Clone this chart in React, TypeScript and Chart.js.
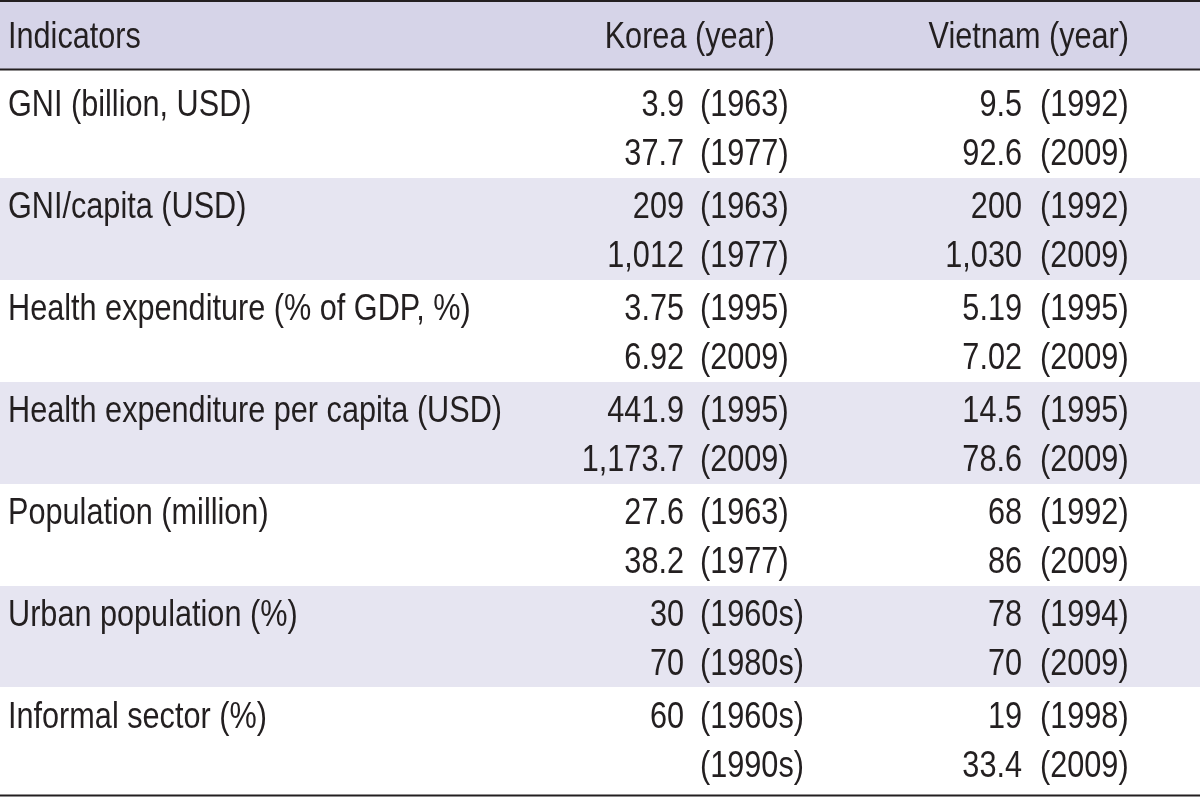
import React, { useEffect, useRef } from "react";
import { Chart, registerables } from "chart.js";

Chart.register(...registerables);

// ---- table content ----
const headers = ["Indicators", "Korea (year)", "Vietnam (year)"];

const indicators = [
  "GNI (billion, USD)",
  "GNI/capita (USD)",
  "Health expenditure (% of GDP, %)",
  "Health expenditure per capita (USD)",
  "Population (million)",
  "Urban population (%)",
  "Informal sector (%)",
];

const koreaValues = [
  ["3.9", "37.7"],
  ["209", "1,012"],
  ["3.75", "6.92"],
  ["441.9", "1,173.7"],
  ["27.6", "38.2"],
  ["30", "70"],
  ["60", ""],
];
const koreaYears = [
  ["(1963)", "(1977)"],
  ["(1963)", "(1977)"],
  ["(1995)", "(2009)"],
  ["(1995)", "(2009)"],
  ["(1963)", "(1977)"],
  ["(1960s)", "(1980s)"],
  ["(1960s)", "(1990s)"],
];
const vietnamValues = [
  ["9.5", "92.6"],
  ["200", "1,030"],
  ["5.19", "7.02"],
  ["14.5", "78.6"],
  ["68", "86"],
  ["78", "70"],
  ["19", "33.4"],
];
const vietnamYears = [
  ["(1992)", "(2009)"],
  ["(1992)", "(2009)"],
  ["(1995)", "(2009)"],
  ["(1995)", "(2009)"],
  ["(1992)", "(2009)"],
  ["(1994)", "(2009)"],
  ["(1998)", "(2009)"],
];

// ---- layout (in scale units; scales span the canvas) ----
const W = 1200;
const H = 797;
const HEADER_BAND = [2, 69];
const SHADED_BANDS = [
  [178, 280],
  [382, 484],
  [586, 687],
];
const RULES = [1, 69.5, 795.5];
const HEADER_BASE = 48;
const FIRST_BASE = 116;
const ROW_PITCH = 102;
const LINE_GAP = 49;
const X_LABEL = 8;
const X_KOREA_VAL = 684;
const X_KOREA_YEAR = 700;
const X_VIET_VAL = 1022;
const X_VIET_YEAR = 1040;
const X_KOREA_HEAD = 775;
const X_VIET_HEAD = 1129;
const FONT_SIZE = 37;
const LONGEST_WIDTH = 494;

const TEXT_COLOR = "#231f20";
const HEADER_COLOR = "#d6d4e8";
const SHADE_COLOR = "#e6e5f1";

const tablePlugin = {
  id: "tableText",
  afterDatasetsDraw(chart: any) {
    const { ctx } = chart;
    const xs = chart.scales.x;
    const ys = chart.scales.y;
    ctx.save();
    ctx.font = `${FONT_SIZE}px "Liberation Sans", Arial, sans-serif`;
    ctx.fillStyle = TEXT_COLOR;
    const sx = LONGEST_WIDTH / ctx.measureText(indicators[3]).width;
    const draw = (text: string, xv: number, yv: number, align: CanvasTextAlign) => {
      if (!text) return;
      const px = xs.getPixelForValue(xv);
      const py = ys.getPixelForValue(yv);
      ctx.save();
      ctx.translate(px, py);
      ctx.scale(sx, 1);
      ctx.textAlign = align;
      ctx.textBaseline = "alphabetic";
      ctx.fillText(text, 0, 0);
      ctx.restore();
    };
    draw(headers[0], X_LABEL, HEADER_BASE, "left");
    draw(headers[1], X_KOREA_HEAD, HEADER_BASE, "right");
    draw(headers[2], X_VIET_HEAD, HEADER_BASE, "right");
    indicators.forEach((label, i) => {
      const b = FIRST_BASE + i * ROW_PITCH;
      draw(label, X_LABEL, b, "left");
      for (let l = 0; l < 2; l++) {
        const yb = b + l * LINE_GAP;
        draw(koreaValues[i][l], X_KOREA_VAL, yb, "right");
        draw(koreaYears[i][l], X_KOREA_YEAR, yb, "left");
        draw(vietnamValues[i][l], X_VIET_VAL, yb, "right");
        draw(vietnamYears[i][l], X_VIET_YEAR, yb, "left");
      }
    });
    ctx.restore();
  },
};

export default function App() {
  const ref = useRef<HTMLCanvasElement | null>(null);

  useEffect(() => {
    document.body.style.margin = "0";
    const canvas = ref.current;
    if (!canvas) return;

    const band = (top: number, bottom: number, color: string) => ({
      type: "line" as const,
      data: [
        { x: 0, y: top },
        { x: W, y: top },
      ],
      fill: { value: bottom },
      backgroundColor: color,
      borderWidth: 0,
      borderColor: "rgba(0,0,0,0)",
      pointRadius: 0,
      order: 2,
    });
    const rule = (yv: number) => ({
      type: "line" as const,
      data: [
        { x: 0, y: yv },
        { x: W, y: yv },
      ],
      fill: false,
      borderColor: TEXT_COLOR,
      borderWidth: 2,
      pointRadius: 0,
      order: 1,
    });

    const chart = new Chart(canvas, {
      type: "line",
      data: {
        datasets: [
          ...RULES.map(rule),
          band(HEADER_BAND[0], HEADER_BAND[1], HEADER_COLOR),
          ...SHADED_BANDS.map(([t, b]) => band(t, b, SHADE_COLOR)),
        ] as any,
      },
      options: {
        animation: false,
        responsive: false,
        events: [],
        layout: { padding: 0 },
        plugins: { legend: { display: false }, tooltip: { enabled: false } },
        scales: {
          x: { type: "linear", min: 0, max: W, display: false },
          y: { type: "linear", min: 0, max: H, reverse: true, display: false },
        },
      },
      plugins: [tablePlugin],
    });
    return () => chart.destroy();
  }, []);

  return (
    <div style={{ width: W, height: H }}>
      <canvas ref={ref} width={W} height={H} style={{ display: "block" }} />
    </div>
  );
}
